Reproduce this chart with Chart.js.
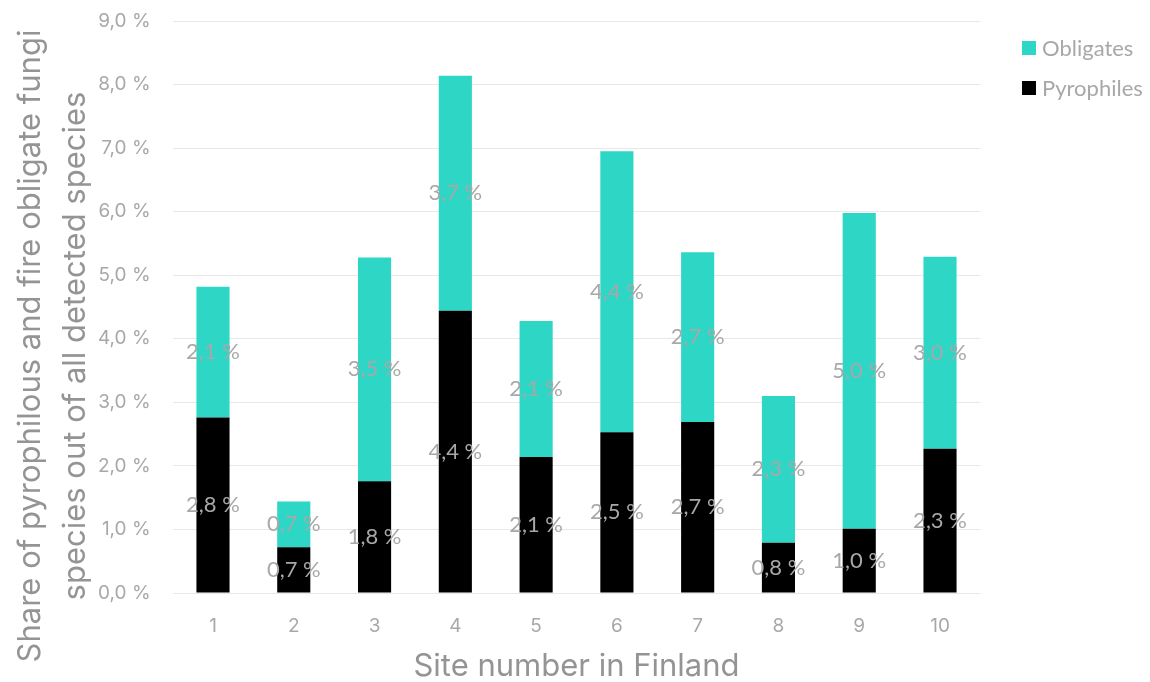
<!DOCTYPE html>
<html lang="en">
<head>
  <meta charset="UTF-8" />
  <title>Pyrophilous fungi by site</title>
  <style>
    html, body { margin: 0; padding: 0; background: #fff; }
    #wrap { width: 1150px; height: 682px; position: relative; }
  </style>
</head>
<body>
  <div id="wrap"><canvas id="fungiChart"></canvas></div>

  <script src="https://cdn.jsdelivr.net/npm/chart.js"></script>
  <script>
    // share of all detected species, percent
    const sites = ['1', '2', '3', '4', '5', '6', '7', '8', '9', '10'];
    const pyrophiles = [2.76, 0.72, 1.76, 4.44, 2.14, 2.53, 2.69, 0.79, 1.01, 2.27];
    const obligates  = [2.06, 0.72, 3.52, 3.70, 2.14, 4.42, 2.67, 2.31, 4.97, 3.02];
    const yMax = 9;
    const yStep = 1;

    const TEAL = '#2dd6c5';
    const GREY_TXT = '#a8a8a8';
    const TITLE_TXT = '#949494';
    const GEO_FONT = 'Inter, "Open Sans", sans-serif';
    const BODY_FONT = 'Lato, "Open Sans", sans-serif';

    const pct = v => v.toFixed(1).replace('.', ',') + ' %';

    // value text centred inside every stacked segment
    const segmentLabels = {
      id: 'segmentLabels',
      afterDatasetsDraw(chart) {
        const ctx = chart.ctx;
        ctx.save();
        ctx.font = '22px ' + BODY_FONT;
        ctx.fillStyle = GREY_TXT;
        ctx.textAlign = 'center';
        ctx.textBaseline = 'middle';
        chart.data.datasets.forEach((ds, i) => {
          chart.getDatasetMeta(i).data.forEach((bar, j) => {
            const p = bar.getProps(['x', 'y', 'base'], true);
            ctx.fillText(pct(ds.data[j]), p.x, (p.y + p.base) / 2);
          });
        });
        ctx.restore();
      }
    };

    // two-line y title, centred on the whole canvas height
    const yTitle = {
      id: 'yTitle',
      afterDraw(chart) {
        const ctx = chart.ctx;
        const lines = ['Share of pyrophilous and fire obligate fungi', 'species out of all detected species'];
        ctx.save();
        ctx.font = '31px ' + GEO_FONT;
        ctx.fillStyle = TITLE_TXT;
        ctx.textAlign = 'center';
        ctx.textBaseline = 'middle';
        ctx.translate(0, 346);
        ctx.rotate(-Math.PI / 2);
        ctx.fillText(lines[0], 0, 31);
        ctx.fillText(lines[1], 0, 76);
        ctx.restore();
      }
    };

    // legend at the top right, top series first
    const sideLegend = {
      id: 'sideLegend',
      afterDraw(chart) {
        const ctx = chart.ctx;
        const items = chart.data.datasets.slice().reverse();
        ctx.save();
        ctx.font = '22px ' + BODY_FONT;
        ctx.textBaseline = 'middle';
        items.forEach((ds, i) => {
          const cy = 48 + i * 40;
          ctx.fillStyle = ds.backgroundColor;
          ctx.fillRect(1022, cy - 7, 14, 14);
          ctx.fillStyle = GREY_TXT;
          ctx.fillText(ds.label, 1042, cy + 1);
        });
        ctx.restore();
      }
    };

    new Chart(document.getElementById('fungiChart'), {
      type: 'bar',
      data: {
        labels: sites,
        datasets: [
          { label: 'Pyrophiles', data: pyrophiles, backgroundColor: '#000000' },
          { label: 'Obligates', data: obligates, backgroundColor: TEAL }
        ]
      },
      options: {
        responsive: true,
        maintainAspectRatio: false,
        animation: false,
        layout: { padding: { top: 21, right: 169.6, left: 0, bottom: 0 } },
        datasets: { bar: { categoryPercentage: 1, barPercentage: 0.41 } },
        plugins: {
          legend: { display: false },
          tooltip: { enabled: false }
        },
        scales: {
          x: {
            stacked: true,
            grid: { display: false },
            border: { display: false },
            ticks: { color: GREY_TXT, font: { family: GEO_FONT, size: 19 }, padding: 14 },
            title: {
              display: true,
              text: 'Site number in Finland',
              color: TITLE_TXT,
              font: { family: GEO_FONT, size: 31, lineHeight: 1 },
              padding: 0
            },
            afterFit(scale) { scale.height = 89; }
          },
          y: {
            stacked: true,
            min: 0,
            max: yMax,
            grid: { color: '#e8e8e8', lineWidth: 1, drawTicks: false },
            border: { display: false },
            ticks: {
              stepSize: yStep,
              color: GREY_TXT,
              font: { family: GEO_FONT, size: 19 },
              padding: 22,
              callback: v => pct(v)
            },
            afterFit(scale) {
              scale.width = 172.6;
              scale.paddingTop = 0;
              scale.paddingBottom = 0;
            }
          }
        }
      },
      plugins: [segmentLabels, yTitle, sideLegend]
    });
  </script>
</body>
</html>
